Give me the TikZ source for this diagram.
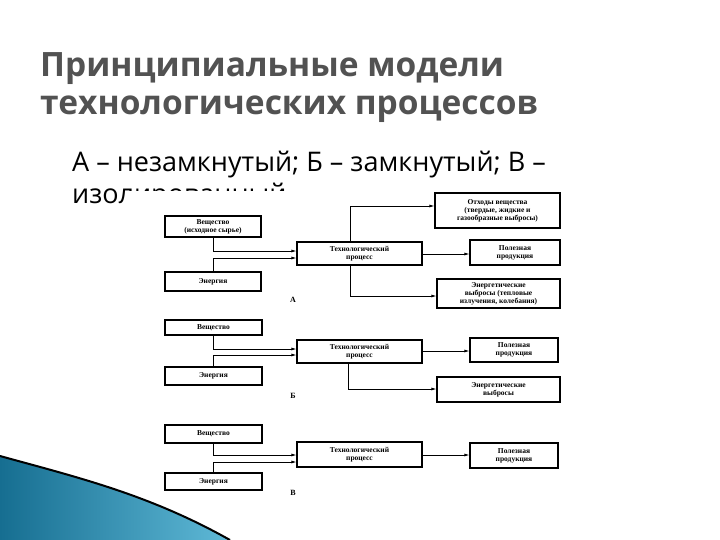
\documentclass[tikz,border=0pt]{standalone}
\usepackage{fontspec}
\setmainfont{Liberation Serif}
\newfontfamily\titlefont{Open Sans}
\usetikzlibrary{arrows.meta,shadings}
\definecolor{tealA}{RGB}{22,110,145}
\definecolor{tealB}{RGB}{95,185,215}
\begin{document}
\begin{tikzpicture}[x=1pt,y=-1pt,
  bx/.style={draw,line width=1.1pt,align=center,font=\fontsize{7.5}{8}\selectfont\bfseries,inner sep=0pt},
  ar/.style={line width=0.8pt,-{Latex[length=5pt,width=3pt]}},
  lab/.style={font=\fontsize{8}{8}\selectfont\bfseries}]
\useasboundingbox (0,0) rectangle (720,540);
\fill[white] (0,0) rectangle (720,540);
% title
\node[anchor=west,font=\titlefont\bfseries\fontsize{33.5}{38}\selectfont,text=black!68,align=left,inner sep=0pt] (title) at (40,88) {Принципиальные модели\\технологических процессов};
\node[anchor=west,font=\titlefont\fontsize{27}{32}\selectfont,align=left,inner sep=0pt] (sub) at (72,181) {А – незамкнутый; Б – замкнутый; В –\\изолированный};
\fill[white] (129,191) rectangle (575,505);
% decoration
\shade[left color=tealA, right color=tealB] (0,456) .. controls (80,478) and (150,495) .. (230,540) -- (0,540) -- cycle;
\draw[line width=2pt] (0,456) .. controls (80,478) and (150,495) .. (230,540);
% A
\node[bx,minimum width=96pt,minimum height=21pt] (a1) at (213,226.5) {Вещество\\(исходное сырье)};
\node[bx,minimum width=96pt,minimum height=19pt] (a2) at (213,281.5) {Энергия};
\node[bx,minimum width=125pt,minimum height=23pt] (a3) at (359.5,253.5) {Технологический\\процесс};
\node[bx,minimum width=125pt,minimum height=35pt] (a4) at (497.5,210.5) {Отходы вещества\\(твердые, жидкие и\\газообразные выбросы)};
\node[bx,minimum width=90pt,minimum height=25pt] (a5) at (515,252.5) {Полезная\\продукция};
\node[bx,minimum width=123pt,minimum height=29pt] (a6) at (498.5,293.5) {Энергетические\\выбросы (тепловые\\излучения, колебания)};
\node[lab] (la) at (293,300) {А};
\draw[ar] (a1.south) |- (a3.west|-0,251);
\draw[ar] (a2.north) |- (a3.west|-0,258);
\draw[ar] (a3.north-|350,0) |- (a4.west|-0,206);
\draw[ar] (a3.east|-0,254) -- (a5.west|-0,254);
\draw[ar] (a3.south-|350,0) |- (a6.west|-0,296);
% B
\node[bx,minimum width=97pt,minimum height=15pt] (b1) at (213.5,327.5) {Вещество};
\node[bx,minimum width=97pt,minimum height=18pt] (b2) at (213.5,376) {Энергия};
\node[bx,minimum width=125pt,minimum height=23pt] (b3) at (359.5,351.5) {Технологический\\процесс};
\node[bx,minimum width=88pt,minimum height=24pt] (b5) at (514,350) {Полезная\\продукция};
\node[bx,minimum width=123pt,minimum height=25pt] (b6) at (498.5,389.5) {Энергетические\\выбросы};
\node[lab] (lb) at (293,396) {Б};
\draw[ar] (b1.south) |- (b3.west|-0,349);
\draw[ar] (b2.north) |- (b3.west|-0,355);
\draw[ar] (b3.east|-0,351) -- (b5.west|-0,351);
\draw[ar] (b3.south-|348,0) |- (b6.west|-0,389);
% V
\node[bx,minimum width=97pt,minimum height=18pt] (c1) at (213.5,434) {Вещество};
\node[bx,minimum width=97pt,minimum height=17pt] (c2) at (213.5,481.5) {Энергия};
\node[bx,minimum width=125pt,minimum height=25pt] (c3) at (359.5,454.5) {Технологический\\процесс};
\node[bx,minimum width=88pt,minimum height=25pt] (c5) at (514,455.5) {Полезная\\продукция};
\node[lab] (lc) at (293,493) {В};
\draw[ar] (c1.south) |- (c3.west|-0,455);
\draw[ar] (c2.north) |- (c3.west|-0,462);
\draw[ar] (c3.east|-0,455) -- (c5.west|-0,455);
\end{tikzpicture}
\end{document}
